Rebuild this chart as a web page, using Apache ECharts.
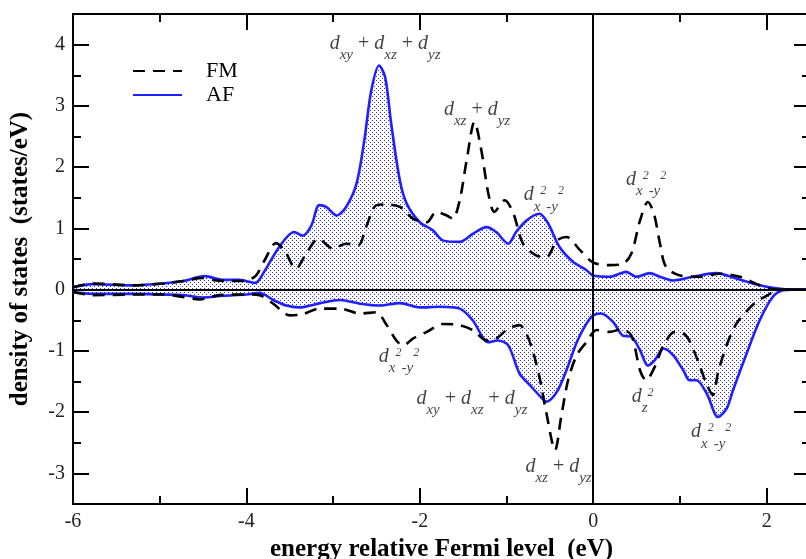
<!DOCTYPE html>
<html>
<head>
<meta charset="utf-8">
<script src="https://cdn.jsdelivr.net/npm/echarts@6/dist/echarts.min.js"></script>
<style>
  html, body { margin: 0; padding: 0; background: #fff; }
  #chart { width: 806px; height: 559px; }
</style>
</head>
<body>
<div id="chart"></div>
<script>
// AF, spin up
const afUpE = [-6.0, -5.77, -5.31, -4.96, -4.73, -4.48, -4.27, -4.08, -3.9, -3.8, -3.62, -3.45, -3.35, -3.25, -3.16, -3.08, -2.96, -2.85, -2.73, -2.64, -2.56, -2.47, -2.40, -2.33, -2.23, -2.15, -2.0, -1.85, -1.73, -1.54, -1.39, -1.23, -1.12, -0.98, -0.89, -0.77, -0.62, -0.52, -0.39, -0.23, -0.08, 0.0, 0.19, 0.38, 0.50, 0.65, 0.77, 0.92, 1.15, 1.42, 1.65, 1.92, 2.11, 2.3, 2.5];
const afUpV = [0.04, 0.09, 0.07, 0.10, 0.14, 0.22, 0.16, 0.16, 0.11, 0.28, 0.70, 0.94, 0.88, 1.05, 1.38, 1.35, 1.21, 1.35, 1.73, 2.44, 3.25, 3.66, 3.47, 2.71, 1.78, 1.40, 1.10, 0.97, 0.80, 0.78, 0.91, 1.02, 0.94, 0.75, 0.94, 1.13, 1.24, 1.08, 0.70, 0.45, 0.32, 0.23, 0.21, 0.29, 0.21, 0.27, 0.21, 0.15, 0.21, 0.27, 0.18, 0.07, 0.02, 0.0, 0.0];

// AF, spin down
const afDnE = [-6.0, -5.77, -5.31, -4.96, -4.73, -4.5, -4.27, -4.0, -3.85, -3.69, -3.54, -3.39, -3.15, -2.92, -2.69, -2.46, -2.23, -2.0, -1.77, -1.54, -1.39, -1.21, -1.10, -0.98, -0.85, -0.73, -0.62, -0.54, -0.42, -0.31, -0.19, -0.08, 0.0, 0.09, 0.23, 0.34, 0.44, 0.54, 0.63, 0.71, 0.81, 0.92, 1.04, 1.11, 1.19, 1.31, 1.44, 1.54, 1.61, 1.77, 1.92, 2.07, 2.19, 2.3, 2.5];
const afDnV = [-0.04, -0.07, -0.07, -0.08, -0.09, -0.13, -0.10, -0.08, -0.05, -0.17, -0.26, -0.29, -0.22, -0.17, -0.23, -0.26, -0.22, -0.29, -0.28, -0.31, -0.50, -0.86, -0.83, -0.91, -1.37, -1.56, -1.73, -1.83, -1.67, -1.32, -0.86, -0.56, -0.42, -0.39, -0.53, -0.75, -0.77, -0.99, -1.24, -1.15, -0.96, -1.07, -1.32, -1.48, -1.48, -1.70, -2.08, -1.94, -1.65, -1.04, -0.50, -0.12, -0.01, 0.0, 0.0];

// FM, spin up
const fmUpE = [-6.0, -5.77, -5.31, -4.96, -4.73, -4.5, -4.35, -4.16, -4.0, -3.89, -3.79, -3.66, -3.56, -3.43, -3.31, -3.17, -3.0, -2.85, -2.71, -2.62, -2.50, -2.39, -2.23, -2.08, -1.92, -1.81, -1.69, -1.62, -1.54, -1.46, -1.37, -1.29, -1.21, -1.14, -1.02, -0.92, -0.81, -0.66, -0.54, -0.42, -0.31, -0.15, 0.0, 0.19, 0.34, 0.44, 0.54, 0.63, 0.70, 0.77, 0.84, 1.0, 1.23, 1.46, 1.69, 1.92, 2.11, 2.5];
const fmUpV = [0.04, 0.10, 0.07, 0.10, 0.14, 0.19, 0.15, 0.14, 0.15, 0.23, 0.48, 0.76, 0.64, 0.34, 0.59, 0.83, 0.67, 0.75, 0.72, 1.02, 1.38, 1.39, 1.35, 1.16, 1.10, 1.27, 1.21, 1.16, 1.46, 2.11, 2.74, 2.27, 1.57, 1.27, 1.46, 1.24, 0.75, 0.56, 0.53, 0.80, 0.86, 0.64, 0.44, 0.40, 0.42, 0.59, 1.13, 1.43, 1.24, 0.75, 0.37, 0.23, 0.21, 0.26, 0.21, 0.07, 0.0, 0.0];

// FM, spin down
const fmDnE = [-6.0, -5.77, -5.31, -4.96, -4.73, -4.54, -4.31, -4.0, -3.85, -3.69, -3.5, -3.35, -3.16, -2.92, -2.69, -2.50, -2.39, -2.27, -2.19, -2.08, -1.92, -1.73, -1.54, -1.39, -1.23, -1.12, -0.98, -0.85, -0.73, -0.62, -0.54, -0.44, -0.37, -0.29, -0.19, -0.08, 0.04, 0.19, 0.32, 0.44, 0.54, 0.61, 0.71, 0.81, 0.94, 1.07, 1.19, 1.31, 1.38, 1.44, 1.54, 1.65, 1.77, 1.88, 2.0, 2.15, 2.5];
const fmDnV = [-0.04, -0.09, -0.08, -0.08, -0.12, -0.16, -0.09, -0.08, -0.09, -0.23, -0.42, -0.40, -0.31, -0.31, -0.39, -0.37, -0.56, -0.83, -0.91, -0.80, -0.69, -0.56, -0.58, -0.66, -0.83, -0.80, -0.64, -0.58, -0.86, -1.43, -2.02, -2.62, -2.08, -1.48, -1.07, -0.86, -0.66, -0.69, -0.65, -0.75, -1.32, -1.48, -1.26, -0.91, -0.69, -0.75, -1.10, -1.55, -1.72, -1.35, -0.90, -0.56, -0.35, -0.20, -0.10, 0.0, 0.0];

// tick labels
const yMajor = [-3, -2, -1, 0, 1, 2, 3, 4];

// orbital labels: [energy, dos, rich text]
const DXYZ = '{d|d}{s|xy}{o| + }{d|d}{s|xz}{o| + }{d|d}{s|yz}';
const DXZYZ = '{d|d}{s|xz}{o| + }{d|d}{s|yz}';
const DX2Y2 = '{d|d}{s|x}{u|2}{s|-y}{u|2}';
const DZ2 = '{d|d}{s|z}{u|2}';
const notes = [
  [-2.40, 3.94, DXYZ],
  [-1.34, 2.86, DXZYZ],
  [-0.57, 1.47, DX2Y2],
  [0.61, 1.72, DX2Y2],
  [-2.24, -1.17, DX2Y2],
  [-1.40, -1.86, DXYZ],
  [-0.40, -2.97, DXZYZ],
  [0.57, -1.82, DZ2],
  [1.36, -2.40, DX2Y2]
];

const pairs = (e, v) => e.map((x, i) => [x, v[i]]);

const SERIF = 'Liberation Serif';
const BLUE = '#1f1fff';

// dotted fill for the AF curves
const tile = document.createElement('canvas');
tile.width = 4;
tile.height = 4;
const tctx = tile.getContext('2d');
tctx.fillStyle = '#2a2aff';
tctx.fillRect(0, 0, 1, 1);
tctx.fillRect(2, 2, 1, 1);
const dots = {image: tile, repeat: 'repeat'};

const noLine = {show: false, onZero: false};

function xAx(pos, interval, len, labels, withLine) {
  return {
    type: 'value', position: pos, min: -6, max: 2.5, interval: interval,
    axisLine: withLine ? {show: true, onZero: false, lineStyle: {color: '#000', width: 2}} : noLine,
    axisTick: {show: true, inside: true, length: len, lineStyle: {color: '#000', width: 2}},
    axisLabel: labels ? {
      show: true, showMaxLabel: false, margin: 8,
      fontFamily: SERIF, fontSize: 20, color: '#222'
    } : {show: false},
    splitLine: {show: false}
  };
}

function yAx(pos, major, labels, withLine) {
  const ax = {
    type: 'value', position: pos, min: -3.5, max: 4.5, interval: 0.5,
    axisLine: withLine ? {show: true, onZero: false, lineStyle: {color: '#000', width: 2}} : noLine,
    axisTick: {show: true, inside: true, length: major ? 16 : 8, lineStyle: {color: '#000', width: 2}},
    axisLabel: {show: false},
    splitLine: {show: false}
  };
  if (major) ax.axisTick.customValues = yMajor;
  if (labels) {
    ax.axisLabel = {
      show: true, margin: 8, fontFamily: SERIF, fontSize: 20, color: '#222',
      customValues: yMajor,
      formatter: v => (Math.abs(v - Math.round(v)) < 1e-6 ? String(Math.round(v)) : '')
    };
  }
  return ax;
}

const chart = echarts.init(document.getElementById('chart'));

const xAxes = [
  xAx('bottom', 2, 16, true, true),
  xAx('bottom', 1, 8, false, false),
  xAx('top', 2, 16, false, true),
  xAx('top', 1, 8, false, false)
];
xAxes[0].name = 'energy relative Fermi level  (eV)';
xAxes[0].nameLocation = 'middle';
xAxes[0].nameGap = 24;
xAxes[0].nameTextStyle = {fontFamily: SERIF, fontSize: 25, fontWeight: 'bold', color: '#000'};

const yAxes = [
  yAx('left', false, true, true),
  yAx('left', true, false, false),
  yAx('right', false, false, true),
  yAx('right', true, false, false)
];
yAxes[0].name = 'density of states  (states/eV)';
yAxes[0].nameLocation = 'middle';
yAxes[0].nameGap = 40;
yAxes[0].nameTextStyle = {fontFamily: SERIF, fontSize: 25, fontWeight: 'bold', color: '#000'};

const fmStyle = {color: '#000', width: 2.6, type: [12, 8]};
const afStyle = {color: BLUE, width: 2.6};

const richStyles = {
  d: {fontFamily: SERIF, fontStyle: 'italic', fontSize: 20, color: '#111', verticalAlign: 'top', lineHeight: 29},
  s: {fontFamily: SERIF, fontStyle: 'italic', fontSize: 15, color: '#111', verticalAlign: 'bottom', lineHeight: 29},
  u: {fontFamily: SERIF, fontStyle: 'italic', fontSize: 12, color: '#111', verticalAlign: 'top', lineHeight: 29},
  o: {fontFamily: SERIF, fontSize: 20, color: '#111', verticalAlign: 'top', lineHeight: 29}
};

chart.setOption({
  animation: false,
  backgroundColor: '#fff',
  grid: {left: 73, top: 14, width: 737, height: 490, containLabel: false, outerBoundsMode: 'none'},
  xAxis: xAxes,
  yAxis: yAxes,
  legend: {
    data: ['FM', 'AF'],
    orient: 'vertical',
    left: 132, top: 60, padding: 0,
    itemWidth: 49, itemHeight: 12, itemGap: 2,
    selectedMode: false,
    itemStyle: {color: 'transparent', borderColor: 'transparent', borderWidth: 0, opacity: 0},
    textStyle: {fontFamily: SERIF, fontSize: 22, color: '#000', padding: [0, 0, 0, 19]}
  },
  series: [
    {
      name: 'AF', type: 'line', data: pairs(afUpE, afUpV), smooth: 0.3,
      symbol: 'none', lineStyle: afStyle, itemStyle: {color: BLUE},
      areaStyle: {color: dots, opacity: 1}
    },
    {
      name: 'AF', type: 'line', data: pairs(afDnE, afDnV), smooth: 0.3,
      symbol: 'none', lineStyle: afStyle, itemStyle: {color: BLUE},
      areaStyle: {color: dots, opacity: 1}
    },
    {
      name: 'FM', type: 'line', data: pairs(fmUpE, fmUpV), smooth: 0.3,
      symbol: 'none', lineStyle: fmStyle, itemStyle: {color: '#000'}
    },
    {
      name: 'FM', type: 'line', data: pairs(fmDnE, fmDnV), smooth: 0.3,
      symbol: 'none', lineStyle: fmStyle, itemStyle: {color: '#000'}
    },
    {
      name: 'zero', type: 'line', data: [[0, 0]], symbol: 'none',
      lineStyle: {width: 0}, silent: true, z: 4,
      markLine: {
        silent: true, symbol: ['none', 'none'], label: {show: false},
        lineStyle: {color: '#000', width: 2, type: 'solid'},
        data: [{yAxis: 0}, {xAxis: 0}]
      }
    },
    {
      name: 'notes', type: 'scatter', symbolSize: 0, silent: true, z: 5,
      data: notes.map(n => [n[0], n[1]]),
      label: {
        show: true, position: 'inside',
        formatter: p => notes[p.dataIndex][2],
        rich: richStyles
      }
    }
  ]
});
</script>
</body>
</html>
